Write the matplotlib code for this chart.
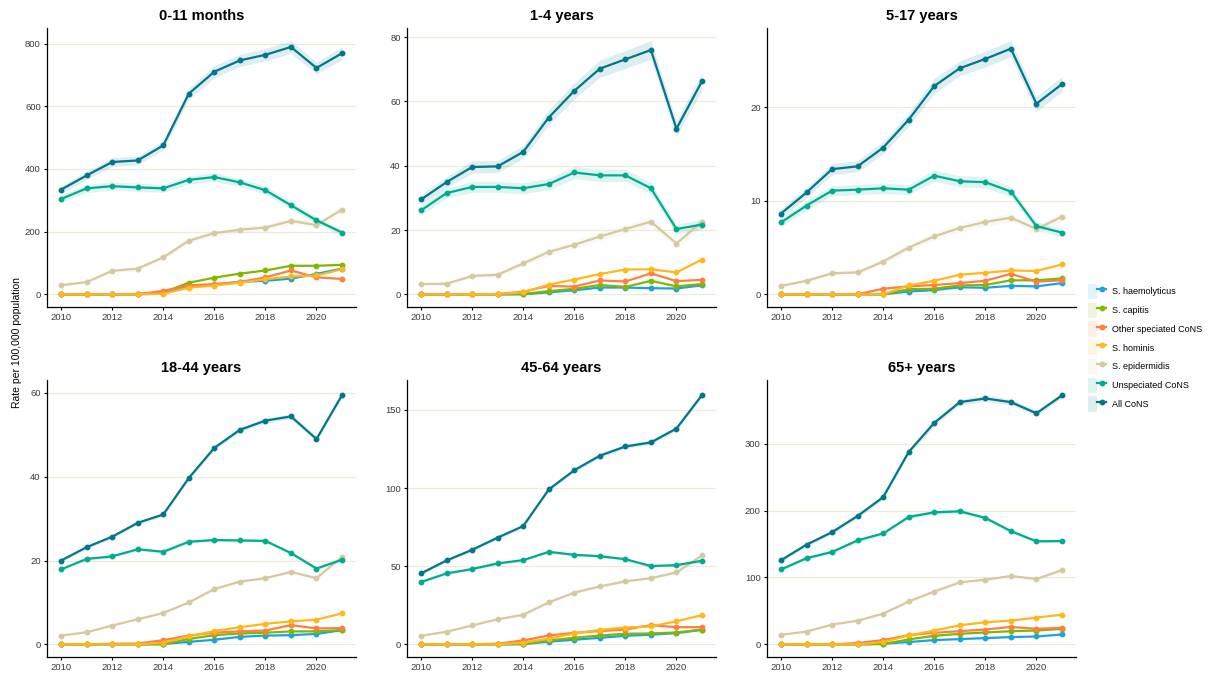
import numpy as np
import matplotlib
matplotlib.use('Agg')
from matplotlib import pyplot as plt
from matplotlib.lines import Line2D
from matplotlib.patches import Patch
from matplotlib.legend_handler import HandlerTuple

plt.rcParams['font.family'] = ['Liberation Sans', 'DejaVu Sans']

years = list(range(2010, 2022))

species = ['S. haemolyticus', 'S. capitis', 'Other speciated CoNS', 'S. hominis',
           'S. epidermidis', 'Unspeciated CoNS', 'All CoNS']
colours = ['#1ba3e0', '#7fb800', '#ff7f41', '#ffb81c',
           '#d5c9a0', '#00ab8e', '#00778b']

# rates per 100,000, one row per species (same order as above)
rates_0_11m = [
    [0, 0, 0, 1, 5, 27, 30, 40, 43, 50, 65, 82],
    [0, 0, 0, 0, 6, 37, 53, 66, 76, 91, 91, 94],
    [0, 0, 0, 0, 11, 28, 33, 39, 54, 76, 54, 49],
    [0, 0, 0, 0, 2, 21, 28, 37, 48, 57, 60, 80],
    [29, 39, 75, 82, 118, 171, 195, 206, 213, 234, 221, 270],
    [304, 338, 345, 341, 338, 365, 374, 357, 332, 284, 236, 197],
    [334, 379, 422, 427, 475, 640, 710, 746, 764, 789, 722, 769],
]
rates_1_4y = [
    [0, 0, 0, 0, 0, 0.6, 1.25, 2.1, 2.1, 1.9, 1.8, 2.8],
    [0, 0, 0, 0, 0.1, 1.0, 1.7, 2.9, 2.3, 4.2, 2.5, 3.2],
    [0, 0, 0, 0.1, 0.8, 2.6, 2.4, 4.3, 4.0, 6.5, 4.1, 4.5],
    [0, 0, 0, 0.1, 0.6, 3.0, 4.6, 6.3, 7.7, 7.8, 6.8, 10.8],
    [3.2, 3.3, 5.7, 6.1, 9.6, 13.2, 15.4, 18.0, 20.3, 22.6, 15.8, 22.6],
    [26.1, 31.5, 33.4, 33.4, 33.0, 34.3, 37.9, 37.0, 37.0, 33.0, 20.3, 21.7],
    [29.5, 34.9, 39.6, 39.8, 44.3, 55.0, 63.3, 70.2, 73.1, 76.0, 51.5, 66.3],
]
rates_5_17y = [
    [0, 0, 0, 0, 0, 0.3, 0.45, 0.75, 0.7, 0.9, 0.85, 1.2],
    [0, 0, 0, 0, 0, 0.55, 0.6, 0.95, 1.0, 1.5, 1.5, 1.7],
    [0, 0, 0, 0, 0.6, 0.85, 1.0, 1.2, 1.45, 2.2, 1.35, 1.5],
    [0, 0, 0, 0, 0, 0.95, 1.45, 2.1, 2.3, 2.55, 2.5, 3.2],
    [0.9, 1.45, 2.25, 2.35, 3.5, 5.0, 6.2, 7.1, 7.75, 8.2, 7.0, 8.3],
    [7.7, 9.5, 11.1, 11.2, 11.35, 11.2, 12.7, 12.1, 12.0, 11.0, 7.3, 6.6],
    [8.65, 10.9, 13.4, 13.7, 15.7, 18.7, 22.3, 24.2, 25.2, 26.3, 20.4, 22.5],
]
rates_18_44y = [
    [0, 0, 0, 0, 0.1, 0.6, 1.1, 1.8, 2.1, 2.2, 2.5, 3.4],
    [0, 0, 0, 0, 0, 1.3, 2.2, 2.6, 2.8, 3.1, 3.1, 3.4],
    [0, 0, 0.15, 0.2, 1.0, 2.1, 2.8, 3.1, 3.3, 4.6, 3.8, 3.9],
    [0, 0, 0, 0, 0.4, 1.9, 3.2, 4.1, 4.9, 5.5, 5.9, 7.4],
    [2.1, 2.9, 4.5, 6.0, 7.5, 10.0, 13.2, 15.0, 15.8, 17.3, 15.8, 20.9],
    [17.9, 20.4, 21.0, 22.7, 22.1, 24.5, 24.9, 24.8, 24.7, 21.8, 18.1, 20.2],
    [20.0, 23.2, 25.7, 29.0, 31.0, 39.7, 46.9, 51.2, 53.4, 54.4, 49.0, 59.5],
]
rates_45_64y = [
    [0, 0, 0, 0, 0.2, 1.7, 3.0, 4.2, 5.5, 6.2, 7.2, 9.3],
    [0, 0, 0, 0, 0.2, 2.5, 4.2, 5.7, 6.8, 7.0, 7.6, 9.5],
    [0, 0, 0, 0.4, 2.5, 5.7, 7.4, 8.5, 9.5, 12.3, 11.0, 11.0],
    [0, 0, 0, 0, 1.1, 3.6, 7.0, 9.3, 10.8, 11.5, 14.8, 18.7],
    [5.5, 8.1, 12.1, 16.1, 18.9, 26.9, 33.1, 37.1, 40.3, 42.4, 46.0, 56.9],
    [39.9, 45.4, 48.2, 51.8, 53.9, 59.2, 57.3, 56.4, 54.5, 50.1, 50.7, 53.5],
    [45.4, 53.7, 60.5, 68.3, 75.7, 99.1, 111.4, 120.7, 126.6, 129.2, 138.1, 159.5],
]
rates_65y = [
    [0, 0, 0, 0, 1.0, 3.5, 6.4, 7.9, 9.4, 10.9, 11.8, 14.8],
    [0, 0, 0, 0, 0.5, 7.4, 12.8, 15.8, 17.8, 19.7, 20.7, 23.2],
    [0, 0, 0, 2.0, 6.4, 13.8, 17.3, 19.7, 22.2, 26.1, 23.2, 24.7],
    [0, 0, 0, 0, 3.5, 13.3, 20.7, 28.6, 33.0, 35.5, 40.0, 44.4],
    [14.3, 19.2, 29.6, 35.5, 45.9, 64.1, 79.0, 92.7, 96.7, 102.1, 97.7, 111.0],
    [112.0, 128.8, 138.1, 155.4, 165.8, 190.4, 197.3, 198.8, 189.0, 169.2, 154.0, 154.4],
    [125.8, 149.0, 167.7, 191.9, 220.0, 287.6, 331.0, 362.0, 367.5, 362.0, 345.3, 372.0],
]

# 95% CI half-widths for S. epidermidis, Unspeciated CoNS, All CoNS
ci_0_11m = [
    [4, 4, 6, 6, 7, 9, 10, 10, 10, 11, 11, 12],
    [12, 13, 13, 13, 13, 13, 14, 13, 13, 12, 11, 10],
    [12, 13, 14, 14, 15, 18, 19, 19, 20, 20, 19, 20],
]
ci_1_4y = [
    [0.5, 0.5, 0.7, 0.7, 0.9, 1.1, 1.2, 1.3, 1.4, 1.5, 1.3, 1.5],
    [1.5, 1.6, 1.7, 1.7, 1.7, 1.8, 1.9, 1.9, 1.9, 1.8, 1.5, 1.6],
    [1.6, 1.7, 1.9, 1.9, 2.0, 2.3, 2.5, 2.7, 2.8, 2.9, 2.4, 2.8],
]
ci_5_17y = [
    [0.15, 0.2, 0.25, 0.25, 0.3, 0.35, 0.4, 0.4, 0.45, 0.45, 0.4, 0.45],
    [0.45, 0.5, 0.55, 0.55, 0.55, 0.55, 0.6, 0.6, 0.6, 0.55, 0.45, 0.45],
    [0.5, 0.55, 0.6, 0.6, 0.65, 0.7, 0.8, 0.8, 0.85, 0.85, 0.8, 0.8],
]
ci_18_44y = [
    [0.1, 0.15, 0.15, 0.2, 0.2, 0.25, 0.3, 0.3, 0.3, 0.35, 0.3, 0.35],
    [0.3, 0.35, 0.35, 0.35, 0.35, 0.4, 0.4, 0.4, 0.4, 0.35, 0.3, 0.35],
    [0.35, 0.4, 0.4, 0.45, 0.45, 0.5, 0.55, 0.6, 0.6, 0.6, 0.55, 0.6],
]
ci_45_64y = [
    [0.3, 0.35, 0.4, 0.5, 0.5, 0.6, 0.7, 0.7, 0.75, 0.8, 0.8, 0.9],
    [0.7, 0.8, 0.8, 0.9, 0.9, 0.9, 0.9, 0.9, 0.9, 0.8, 0.8, 0.9],
    [0.8, 0.9, 1.0, 1.0, 1.1, 1.3, 1.3, 1.4, 1.4, 1.4, 1.4, 1.6],
]
ci_65y = [
    [1.0, 1.1, 1.3, 1.4, 1.6, 1.9, 2.1, 2.2, 2.3, 2.3, 2.2, 2.4],
    [2.6, 2.8, 2.9, 3.0, 3.1, 3.3, 3.3, 3.3, 3.2, 3.0, 2.8, 2.8],
    [2.8, 3.0, 3.2, 3.4, 3.6, 4.0, 4.3, 4.4, 4.4, 4.3, 4.2, 4.3],
]

titles = ['0-11 months', '1-4 years', '5-17 years', '18-44 years', '45-64 years', '65+ years']
all_rates = [rates_0_11m, rates_1_4y, rates_5_17y, rates_18_44y, rates_45_64y, rates_65y]
all_ci = [ci_0_11m, ci_1_4y, ci_5_17y, ci_18_44y, ci_45_64y, ci_65y]
yticks = [[0, 200, 400, 600, 800], [0, 20, 40, 60, 80], [0, 10, 20],
          [0, 20, 40, 60], [0, 50, 100, 150], [0, 100, 200, 300]]
xticks = [2010, 2012, 2014, 2016, 2018, 2020]

fig = plt.figure(figsize=(12.12, 6.75), dpi=100)

lefts = [0.0388, 0.3358, 0.6328]
rows = [(0.5452, 0.4133), (0.0267, 0.4104)]

for i in range(6):
    bottom, height = rows[i // 3]
    ax = fig.add_axes([lefts[i % 3], bottom, 0.255, height])
    rates = all_rates[i]
    ci = all_ci[i]
    for j, (name, col) in enumerate(zip(species, colours)):
        vals = np.array(rates[j])
        if j >= 4:
            hw = np.array(ci[j - 4])
            ax.fill_between(years, vals - hw, vals + hw, color=col, alpha=0.13,
                            linewidth=0, zorder=2)
        ax.plot(years, vals, color=col, lw=1.6, marker='o', ms=3.2, zorder=3 + j)

    ax.set_xlim(2009.45, 2021.55)
    ax.margins(y=0.05)
    ax.set_xticks(xticks)
    ax.set_yticks(yticks[i])
    ax.grid(axis='y', color='#ecebd9', lw=0.9, zorder=0)
    ax.set_axisbelow(True)
    for side in ['top', 'right']:
        ax.spines[side].set_visible(False)
    for side in ['left', 'bottom']:
        ax.spines[side].set_linewidth(0.9)
    ax.tick_params(labelsize=6.8, labelcolor='#3a3a3a', length=2.5, width=0.8, pad=2)
    ax.set_title(titles[i], fontsize=10.5, fontweight='bold', pad=6)

fig.text(0.014, 0.493, 'Rate per 100,000 population', rotation=90,
         ha='center', va='center', fontsize=7.5)

handles = []
for col in colours:
    box = Patch(facecolor=col, alpha=0.13, edgecolor='none')
    line = Line2D([], [], color=col, lw=1.6, marker='o', ms=3.2)
    handles.append((box, line))

fig.legend(handles, species, handler_map={tuple: HandlerTuple(ndivide=None)},
           loc='upper left', bbox_to_anchor=(1088 / 1212, 1 - 284 / 675),
           frameon=False, fontsize=6.5, handlelength=2.0, handleheight=2.2,
           labelspacing=0.4, handletextpad=0.7, borderpad=0, borderaxespad=0)

fig.savefig('out.png', dpi=100)
